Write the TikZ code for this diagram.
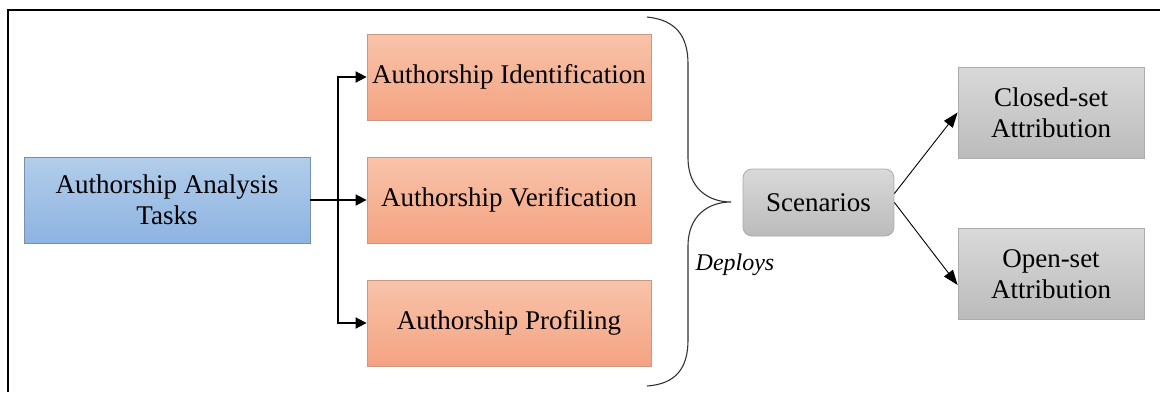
\documentclass[tikz,border=0pt]{standalone}
\usepackage{fontspec}
\setmainfont{Liberation Serif}
\usetikzlibrary{arrows.meta}
\definecolor{bluetop}{HTML}{B3CDEA}
\definecolor{bluebot}{HTML}{8DB3E1}
\definecolor{blueedge}{HTML}{7890AC}
\definecolor{ortop}{HTML}{F8C3AA}
\definecolor{orbot}{HTML}{F4A382}
\definecolor{oredge}{HTML}{C99884}
\definecolor{grtop}{HTML}{D9D9D9}
\definecolor{grbot}{HTML}{BBBBBB}
\definecolor{gredge}{HTML}{ABABAB}
\tikzset{
  lbl/.style={font=\fontsize{27}{31}\selectfont, align=center, inner sep=0pt},
  bluebox/.style={lbl, draw=blueedge, line width=0.8pt, top color=bluetop, bottom color=bluebot, minimum width=286pt, minimum height=86pt},
  orbox/.style={lbl, draw=oredge, line width=0.8pt, top color=ortop, bottom color=orbot, minimum width=284pt, minimum height=86pt},
  grbox/.style={lbl, draw=gredge, line width=0.8pt, top color=grtop, bottom color=grbot, minimum width=186pt, minimum height=91pt},
  scenbox/.style={grbox, rounded corners=9pt, minimum width=151pt, minimum height=67pt},
  thickarrow/.style={line width=1.8pt, -{Triangle[length=11pt,width=11pt]}},
  thinarrow/.style={line width=0.9pt, -{Triangle[length=15pt,width=11pt]}},
  frame/.style={line width=2.2pt},
  brace/.style={line width=1.1pt, draw=black!80}
}
\begin{document}
\begin{tikzpicture}[x=1pt,y=-1pt]
\useasboundingbox (0,0) rectangle (1160,392);
\fill[white] (0,0) rectangle (1160,392);
\draw[frame] (1160,10) -- (8,10) -- (8,392);

\node[bluebox] (task) at (167,200) {Authorship Analysis\\Tasks};
\node[orbox] (ident) at (509,77) {Authorship Identification};
\node[orbox] (verif) at (509,200) {Authorship Verification};
\node[orbox] (prof) at (509,323) {Authorship Profiling};
\node[scenbox] (scen) at (818.5,202.5) {Scenarios};
\node[grbox] (closed) at (1051,112.5) {Closed-set\\Attribution};
\node[grbox] (open) at (1051,274) {Open-set\\Attribution};
\node[font=\fontsize{24}{28}\selectfont\itshape, inner sep=0pt] (dep) at (735,265) {Deploys};

\coordinate (j) at (338,200);
\draw[thickarrow] (task.east) -- (verif.west);
\draw[thickarrow] (j) |- (ident.west);
\draw[thickarrow] (j) |- (prof.west);

\draw[brace] (647,17) .. controls (676,20) and (688,36) .. (688,64) -- (688,158)
  .. controls (688,188) and (708,202) .. (731,202)
  .. controls (708,202) and (688,216) .. (688,246) -- (688,340)
  .. controls (688,368) and (676,384) .. (647,386);

\draw[thinarrow] ([yshift=9pt]scen.east) -- (closed.west);
\draw[thinarrow] (scen.east) -- ([yshift=-11pt]open.west);
\end{tikzpicture}
\end{document}
